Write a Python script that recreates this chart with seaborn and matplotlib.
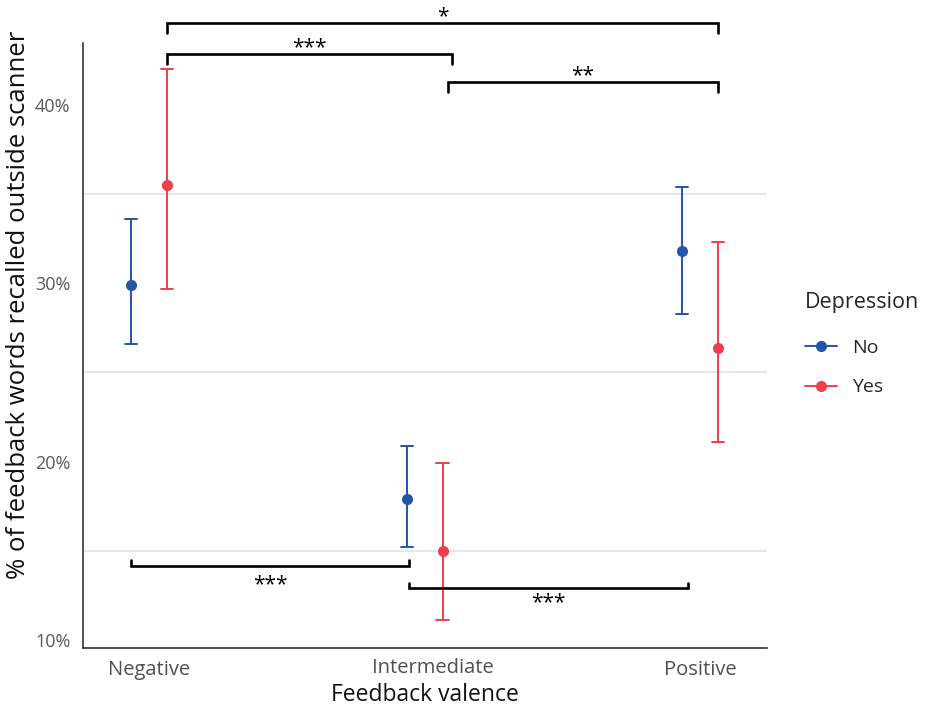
import matplotlib
matplotlib.use("Agg")
import matplotlib.pyplot as plt
from matplotlib.lines import Line2D
from matplotlib.transforms import ScaledTranslation
import seaborn as sns
import pandas as pd

valence = ["Negative", "Intermediate", "Positive"]
groups = ["No", "Yes"]

# point estimates and interval ends (percent)
mean_no = [29.9, 17.9, 31.8]
low_no = [26.6, 15.2, 28.3]
high_no = [33.6, 20.9, 35.4]
mean_yes = [35.5, 15.0, 26.4]
low_yes = [29.7, 11.1, 21.1]
high_yes = [42.0, 19.9, 32.3]

yticks = [10, 20, 30, 40]
ytick_labels = ["10%", "20%", "30%", "40%"]

# significance brackets: (from x, to x, level, label, label baseline)
sig_top = [(0.065, 2.065, 44.6, "*", 44.65),
           (0.065, 1.10, 42.87, "***", 42.92),
           (1.085, 2.065, 41.3, "**", 41.35)]
sig_bottom = [(-0.065, 0.945, 14.16, "***", 12.78),
              (0.944, 1.956, 12.92, "***", 11.77)]

palette = {"No": "#2356a7", "Yes": "#ef3f48"}

# long table: each group carries low / estimate / high, so median + full range
rows = []
for g, lo, mid, hi in [("No", low_no, mean_no, high_no), ("Yes", low_yes, mean_yes, high_yes)]:
    for i, v in enumerate(valence):
        for val in (lo[i], mid[i], hi[i]):
            rows.append({"valence": v, "depression": g, "recall": val})
df = pd.DataFrame(rows)

sns.set_style("white")
plt.rcParams["font.family"] = ["Open Sans", "DejaVu Sans"]

fig = plt.figure(figsize=(9.27, 7.07), dpi=100)
ax = fig.add_axes([0.0895, 0.0835, 0.738, 0.8557])

sns.pointplot(data=df, x="valence", y="recall", hue="depression",
              order=valence, hue_order=groups, palette=palette,
              estimator="median", errorbar=("pi", 100), dodge=0.13,
              linestyle="none", markers="o", markersize=8, markeredgewidth=0,
              capsize=0.045, err_kws={"linewidth": 1.4}, legend=False, ax=ax)

ax.set_xlim(-0.24, 2.243)
ax.set_ylim(9.55, 43.48)
ax.set_yticks(yticks)
ax.set_yticklabels(ytick_labels)
ax.set_yticks([15, 25, 35], minor=True)
ax.grid(False)
ax.grid(which="minor", axis="y", color="#e4e4e4", linewidth=1.2)
ax.set_axisbelow(True)
ax.tick_params(which="both", length=0)
ax.tick_params(axis="y", pad=9, labelsize=13, labelcolor="#595959")
ax.tick_params(axis="x", pad=9, labelsize=14.5, labelcolor="#505050")

# the middle label sits a little right of its category in the original
mid_lab = ax.get_xticklabels()[1]
mid_lab.set_transform(mid_lab.get_transform() + ScaledTranslation(0.08, 0.02, fig.dpi_scale_trans))

for s in ["top", "right"]:
    ax.spines[s].set_visible(False)
for s in ["left", "bottom"]:
    ax.spines[s].set_color("#222222")
    ax.spines[s].set_linewidth(1.1)

ax.set_xlabel("Feedback valence", fontsize=16.5, color="#111111", labelpad=2)
ax.set_ylabel("% of feedback words recalled outside scanner", fontsize=18.5, color="#111111")
ax.yaxis.set_label_coords(-0.076, 0.568)

def bracket(x0, x1, y, tick, label, text_y):
    ax.plot([x0, x0, x1, x1], [y + tick, y, y, y + tick], color="black",
            linewidth=1.9, clip_on=False, zorder=5, solid_joinstyle="miter")
    ax.text((x0 + x1) / 2, text_y, label, ha="center", va="baseline",
            fontsize=15, color="black", clip_on=False, zorder=5)

for x0, x1, y, lab, ty in sig_top:
    bracket(x0, x1, y, -0.55, lab, ty)
for x0, x1, y, lab, ty in sig_bottom:
    bracket(x0, x1, y, 0.3, lab, ty)

handles = [Line2D([], [], color=palette[g], marker="o", markersize=8,
                  markeredgewidth=0, linewidth=1.4) for g in groups]
leg = ax.legend(handles, groups, title="Depression", loc="upper left",
                bbox_to_anchor=(1.041, 0.605), frameon=False, fontsize=14,
                title_fontsize=15.5, handlelength=1.65, handletextpad=0.8,
                labelspacing=1.1, borderpad=0)
leg._legend_box.align = "left"
leg._legend_box.sep = 19

fig.savefig("out.png", dpi=100)
